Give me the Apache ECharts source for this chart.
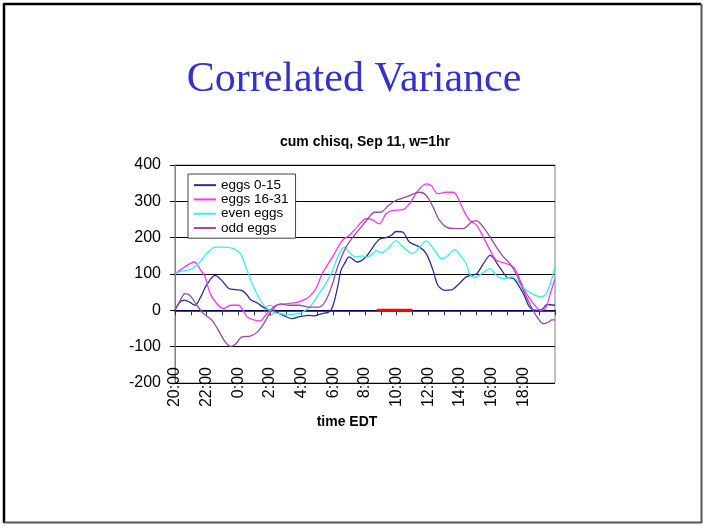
<!DOCTYPE html>
<html>
<head>
<meta charset="utf-8">
<script src="https://cdn.jsdelivr.net/npm/echarts@6/dist/echarts.min.js"></script>
<style>
html,body{margin:0;padding:0;background:#fff;}
#chart{width:703px;height:526px;}
</style>
</head>
<body>
<div id="chart"></div>
<script>
// hours after 20:00, value
const eggs0_15 = [[0,0],[0.3,22],[0.6,28],[0.95,22],[1.27,14],[1.6,35],[2.0,70],[2.54,96],[3.0,80],[3.4,60],[3.8,57],[4.2,55],[4.5,45],[4.76,30],[5.2,20],[5.6,8],[6.0,0],[6.4,-5],[6.9,-15],[7.4,-23],[7.83,-18],[8.47,-14],[8.8,-15],[9.3,-9],[9.7,-5],[9.95,9],[10.27,64],[10.48,110],[10.7,128],[11.0,147],[11.5,133],[12.06,147],[12.5,174],[12.9,195],[13.33,200],[13.65,206],[13.97,217],[14.4,215],[14.8,188],[15.45,174],[15.87,156],[16.3,110],[16.6,69],[17.04,55],[17.46,56],[17.9,71],[18.4,92],[19.05,101],[19.5,130],[19.9,151],[20.5,119],[20.95,92],[21.4,87],[22.0,46],[22.4,9],[22.86,0],[23.2,3],[23.5,16],[24,14]];
const eggs16_31 = [[0,100],[0.3,110],[0.63,120],[1.0,130],[1.2,133],[1.38,128],[1.6,112],[1.9,92],[2.22,46],[2.65,18],[3.07,5],[3.5,14],[4.02,14],[4.3,0],[4.55,-18],[4.97,-26],[5.4,-29],[5.7,-14],[6.0,0],[6.35,14],[6.98,18],[7.4,20],[7.83,23],[8.2,30],[8.47,37],[8.9,60],[9.3,101],[9.95,147],[10.58,193],[11.0,206],[11.5,229],[12.06,252],[12.5,248],[12.9,238],[13.33,266],[13.76,275],[14.4,277],[14.8,293],[15.35,330],[15.87,348],[16.2,343],[16.6,321],[17.14,325],[17.57,325],[17.8,315],[18.2,278],[18.6,248],[19.05,234],[19.47,202],[19.9,165],[20.3,138],[20.95,128],[21.4,119],[21.8,83],[22.2,46],[22.65,18],[23.07,0],[23.4,5],[23.7,46],[24,87]];
const evenEggs = [[0,101],[0.4,108],[0.74,110],[1.1,115],[1.48,128],[2.0,156],[2.54,174],[3.07,174],[3.7,170],[4.13,156],[4.55,110],[4.97,64],[5.4,27],[5.8,5],[6.24,-5],[6.56,-9],[7.2,-11],[7.83,-9],[8.25,0],[8.68,18],[9.1,46],[9.52,73],[9.95,110],[10.37,156],[10.7,174],[11.0,160],[11.43,147],[11.85,150],[12.06,146],[12.38,151],[12.7,165],[13.0,158],[13.44,170],[13.97,191],[14.29,179],[15.03,156],[15.45,174],[15.87,191],[16.4,165],[16.83,142],[17.25,151],[17.67,167],[18.1,147],[18.4,128],[18.6,101],[18.94,90],[19.37,101],[19.9,115],[20.3,96],[20.74,87],[21.27,92],[21.8,73],[22.2,55],[22.75,41],[23.17,37],[23.5,50],[23.8,87],[24,120]];
const oddEggs = [[0,0],[0.32,27],[0.63,46],[0.95,41],[1.38,14],[1.8,-9],[2.33,-27],[2.86,-64],[3.17,-87],[3.5,-99],[3.8,-94],[4.23,-73],[4.76,-71],[5.19,-60],[5.6,-37],[6.03,-5],[6.35,11],[6.67,18],[7.2,14],[7.83,14],[8.47,9],[9.1,9],[9.52,27],[9.95,73],[10.27,119],[10.8,174],[11.32,206],[11.85,234],[12.27,257],[12.6,270],[13.0,270],[13.5,289],[13.97,303],[14.6,312],[15.45,325],[15.87,316],[16.3,284],[16.7,248],[17.14,229],[17.67,225],[18.2,225],[18.73,243],[19.05,246],[19.47,229],[19.9,202],[20.3,174],[20.74,147],[21.16,128],[21.6,96],[22.0,55],[22.4,18],[22.86,-18],[23.28,-37],[23.6,-32],[23.8,-26],[24,-26]];
const redSpan = [[12.75,0],[15,0]];
const circlePts = [[6,0]];
const seriesNames = ['eggs 0-15','eggs 16-31','even eggs','odd eggs'];
const seriesColors = ['#2E2E96','#FF33FF','#33F0F0','#9A4A9E'];
const startHour = 20;

const chart = echarts.init(document.getElementById('chart'), null, {renderer:'canvas'});
const fontSans = 'Liberation Sans, Arial, sans-serif';
const datasets = [eggs0_15, eggs16_31, evenEggs, oddEggs];

const lineSeries = datasets.map((d,i)=>({
  name: seriesNames[i], type:'line', data:d, xAxisIndex:0, yAxisIndex:0,
  showSymbol:false, smooth:0.3, animation:false,
  lineStyle:{color:seriesColors[i], width:1.3}, itemStyle:{color:seriesColors[i]}
}));

chart.setOption({
  animation:false,
  backgroundColor:'#fff',
  grid:{left:175, right:148, top:165, bottom:143, show:true, borderColor:'#808080', borderWidth:1, backgroundColor:'transparent'},
  legend:{
    data:seriesNames, orient:'vertical', left:188, top:174,
    backgroundColor:'#fff', borderColor:'#404040', borderWidth:1, borderRadius:0,
    padding:[4,7,3,6], itemGap:0, itemWidth:22, itemHeight:2, icon:'rect',
    textStyle:{fontFamily:fontSans, fontSize:13.5, color:'#000', lineHeight:14.3}
  },
  xAxis:[
    {type:'value', min:0, max:24, interval:2, position:'bottom',
     axisLine:{show:false, onZero:false}, axisTick:{show:false}, splitLine:{show:false},
     axisLabel:{rotate:90, margin:-16, fontFamily:fontSans, fontSize:16, color:'#000',
       showMaxLabel:false, showMinLabel:true,
       formatter:v=>((startHour+v)%24)+':00'}},
    {type:'value', min:0, max:24, interval:1, position:'top',
     axisLine:{show:true, onZero:true, lineStyle:{color:'#000080', width:1.5}},
     axisTick:{show:true, inside:true, length:5, lineStyle:{color:'#333', width:1}},
     axisLabel:{show:false}, splitLine:{show:false}}
  ],
  yAxis:{type:'value', min:-200, max:400, interval:100,
    axisLine:{show:true, onZero:false, lineStyle:{color:'#808080', width:1}},
    axisTick:{show:true, length:5, lineStyle:{color:'#000'}},
    splitLine:{show:true, lineStyle:{color:'#000', width:1}},
    axisLabel:{margin:14, fontFamily:fontSans, fontSize:16, color:'#000'}},
  series: lineSeries.concat([
    {name:'span', type:'line', data:redSpan, showSymbol:false, z:5,
     lineStyle:{color:'#FF0000', width:3}},
    {name:'marker', type:'scatter', data:circlePts, symbol:'circle', symbolSize:10, z:6,
     itemStyle:{color:'rgba(0,0,0,0)', borderColor:'#808080', borderWidth:1}}
  ]),
  graphic:[
    {type:'line', shape:{x1:4, y1:4, x2:701, y2:4}, style:{stroke:'#000', lineWidth:2.5}},
    {type:'line', shape:{x1:4, y1:3, x2:4, y2:523}, style:{stroke:'#000', lineWidth:2.5}},
    {type:'line', shape:{x1:701.5, y1:4, x2:701.5, y2:523}, style:{stroke:'#555', lineWidth:2}},
    {type:'line', shape:{x1:4, y1:522.5, x2:702, y2:522.5}, style:{stroke:'#555', lineWidth:2}},
    {type:'text', style:{text:'Correlated Variance', x:354, y:80, align:'center', verticalAlign:'middle',
      font:'42px "Liberation Serif", "Times New Roman", serif', fill:'#3333CC'}},
    {type:'text', style:{text:'cum chisq, Sep 11, w=1hr', x:365, y:142, align:'center', verticalAlign:'middle',
      font:'bold 14px "Liberation Sans", Arial, sans-serif', fill:'#000'}},
    {type:'text', style:{text:'time EDT', x:347, y:422, align:'center', verticalAlign:'middle',
      font:'bold 14px "Liberation Sans", Arial, sans-serif', fill:'#000'}}
  ]
});
</script>
</body>
</html>
